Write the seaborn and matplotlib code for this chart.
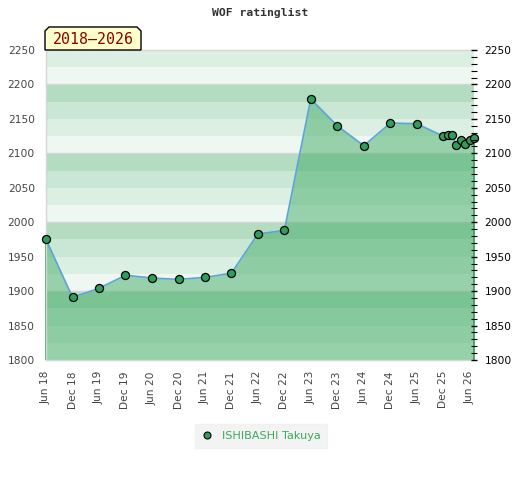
import pandas as pd
import matplotlib
matplotlib.use("Agg")
import matplotlib.pyplot as plt
import matplotlib.dates as mdates
from matplotlib.lines import Line2D
from matplotlib.patches import Polygon
from matplotlib.ticker import MultipleLocator
import seaborn as sns

# ---- data ----
player = "ISHIBASHI Takuya"
period_label = "2018–2026"
chart_title = "WOF ratinglist"
months = [
    "2018-06", "2018-12", "2019-06", "2019-12", "2020-06", "2020-12",
    "2021-06", "2021-12", "2022-06", "2022-12", "2023-06", "2023-12",
    "2024-06", "2024-12", "2025-06",
    "2025-12", "2026-01", "2026-02", "2026-03", "2026-04", "2026-05",
    "2026-06", "2026-07",
]
ratings = [
    1975, 1891, 1904, 1923, 1919, 1917,
    1920, 1926, 1983, 1988, 2179, 2140,
    2111, 2144, 2143,
    2125, 2126, 2127, 2112, 2119, 2113,
    2119, 2122,
]
y_min, y_max = 1800, 2250

df = pd.DataFrame({"date": pd.to_datetime(months), "rating": ratings})

# ---- figure ----
sns.set_style("white")
plt.rcParams["font.family"] = ["DejaVu Sans"]

fig = plt.figure(figsize=(5.2, 4.8), dpi=100)
ax = fig.add_axes([46 / 520, 120 / 480, 428 / 520, 310 / 480])

# striped background, 25 points per band
band_colors = ["#eef7f2", "#dcefe3", "#c9e7d4", "#b3dcc1"]
for lo in range(y_min, y_max, 25):
    ax.axhspan(lo, lo + 25, color=band_colors[(lo % 100) // 25], lw=0, zorder=0)
for y in range(y_min + 100, y_max, 100):
    ax.axhline(y, color="#d6d6d6", lw=1, zorder=0.5)

# area under rating line
ax.fill_between(df["date"], df["rating"], y_min,
                facecolor="#42ad66", alpha=0.5, lw=0, zorder=1)
ax.vlines([df["date"].iloc[0], df["date"].iloc[-1]], y_min,
          [df["rating"].iloc[0], df["rating"].iloc[-1]],
          color="#3a9e5f", lw=1.2, zorder=1.5, clip_on=False)

sns.lineplot(data=df, x="date", y="rating", ax=ax, color="#5ba4d9", lw=1.2,
             marker="o", markersize=5.8, markerfacecolor="#2f9e5c",
             markeredgecolor="black", markeredgewidth=0.9, zorder=3,
             clip_on=False)

ax.set_xlim(df["date"].min(), df["date"].max())
ax.set_ylim(y_min, y_max)
ax.set_xlabel("")
ax.set_ylabel("")

ax.xaxis.set_major_locator(mdates.MonthLocator(bymonth=[6, 12]))
ax.xaxis.set_major_formatter(mdates.DateFormatter("%b %y"))
ax.yaxis.set_major_locator(MultipleLocator(50))
ax.tick_params(axis="x", length=0, pad=8, labelsize=7.7, labelcolor="#444444",
               labelrotation=90)
ax.tick_params(axis="y", length=0, pad=8, labelsize=7.7, labelcolor="#444444")

for side in ["left", "top", "bottom"]:
    ax.spines[side].set_color("#d6d6d6")
    ax.spines[side].set_linewidth(1)
ax.spines["right"].set_visible(False)

# right axis with minor ticks
ax2 = ax.twinx()
ax2.set_ylim(y_min, y_max)
ax2.yaxis.set_major_locator(MultipleLocator(50))
ax2.yaxis.set_minor_locator(MultipleLocator(10))
ax2.tick_params(axis="y", which="major", direction="inout", length=5, width=1,
                color="black", pad=5, labelsize=7.7, labelcolor="black")
ax2.tick_params(axis="y", which="minor", direction="inout", length=4, width=0.8,
                color="black")
for side in ["left", "top", "bottom", "right"]:
    ax2.spines[side].set_visible(False)

# title
fig.text(260 / 520, 1 - 13 / 480, chart_title, ha="center", va="center",
         family="DejaVu Sans Mono", fontweight="bold", fontsize=8.2,
         color="#333333")

# period tag
tag_px = [(45, 50), (45, 31), (49, 27), (137, 27), (141, 31), (141, 50)]
tag = Polygon([(x / 520, 1 - y / 480) for x, y in tag_px], closed=True,
              transform=fig.transFigure, facecolor="#ffffcc",
              edgecolor="black", lw=1, zorder=5)
fig.patches.append(tag)
fig.text(93 / 520, 1 - 39 / 480, period_label, ha="center", va="center",
         family="DejaVu Sans Mono", fontsize=10.7, color="#8b0000", zorder=6)

# legend
handle = Line2D([], [], ls="none", marker="o", markersize=5,
                markerfacecolor="#2f9e5c", markeredgecolor="black",
                markeredgewidth=0.8)
leg = fig.legend([handle], [player], loc="center",
                 bbox_to_anchor=(261 / 520, 1 - 436 / 480), frameon=True,
                 fontsize=8.1, handlelength=1.0, handletextpad=0.8,
                 borderpad=0.6, fancybox=False)
leg.get_frame().set_facecolor("#f0f0f0")
leg.get_frame().set_edgecolor("#f0f0f0")
for t in leg.get_texts():
    t.set_color("#3aaa5c")

fig.savefig("out.png", dpi=100)
